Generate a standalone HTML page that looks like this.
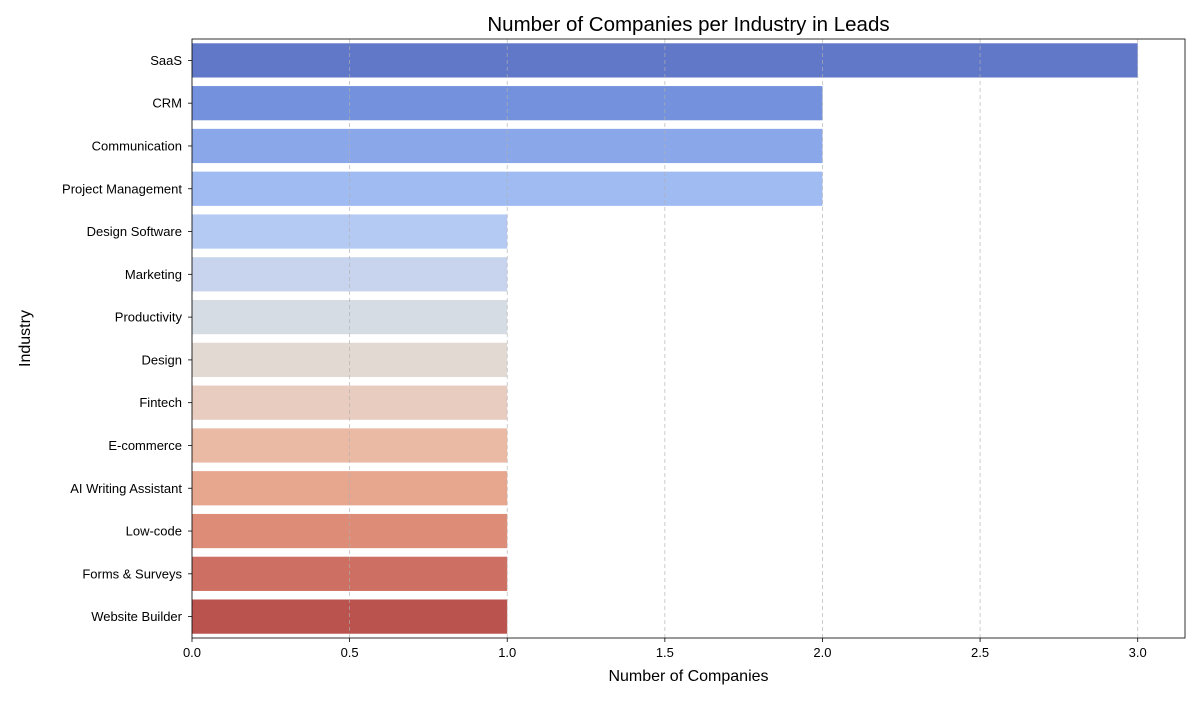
<!DOCTYPE html>
<html><head><meta charset="utf-8"><style>
body{margin:0;background:#fff;font-family:"Liberation Sans","DejaVu Sans",sans-serif}
</style></head><body>
<svg id="chart" width="1200" height="700" xmlns="http://www.w3.org/2000/svg"></svg>
<script>
const categories=["SaaS","CRM","Communication","Project Management","Design Software","Marketing","Productivity","Design","Fintech","E-commerce","AI Writing Assistant","Low-code","Forms & Surveys","Website Builder"];
const values=[3,2,2,2,1,1,1,1,1,1,1,1,1,1];
const xTicks=[0,0.5,1.0,1.5,2.0,2.5,3.0];
const xTickLabels=["0.0","0.5","1.0","1.5","2.0","2.5","3.0"];
const colors=["#6178C9","#7491DD","#8AA7EA","#A0BAF2","#B5CAF3","#C8D4EE","#D6DCE3","#E2D9D3","#E8CCC0","#EBBAA4","#E7A78F","#DD8D77","#CD6F62","#BA524E"];
const ns="http://www.w3.org/2000/svg";
const svg=document.getElementById('chart');
const L=192,R=1185,T=39,B=638,xmax=3.15;
const xs=v=>L+v/xmax*(R-L);
const band=(B-T)/categories.length;
const yc=i=>T+band*(i+0.5);
function mk(tag,attrs,parent){const e=document.createElementNS(ns,tag);for(const k in attrs)e.setAttribute(k,attrs[k]);(parent||svg).appendChild(e);return e;}
// bars
categories.forEach((c,i)=>{
 const r=mk('rect',{x:xs(0),y:yc(i)-band*0.4,width:xs(values[i])-xs(0),height:band*0.8,fill:colors[i]});
 
 
 mk('line',{x1:L-4,x2:L,y1:yc(i),y2:yc(i),stroke:'#000','stroke-width':0.8});
 const t=mk('text',{x:L-10,y:yc(i)+4.5,'text-anchor':'end','font-size':13,fill:'#000'});
 t.textContent=c;
 
 
});
// grid (drawn above bars)
xTicks.forEach((t,i)=>{
 const g=mk('line',{x1:xs(t),x2:xs(t),y1:T,y2:B,stroke:'#b0b0b0','stroke-opacity':0.8,'stroke-dasharray':'4,3','stroke-width':0.8});
 
 
});
// x ticks
xTicks.forEach((t,i)=>{
 mk('line',{x1:xs(t),x2:xs(t),y1:B,y2:B+4,stroke:'#000','stroke-width':0.8});
 const tx=mk('text',{x:xs(t),y:B+19,'text-anchor':'middle','font-size':13});
 tx.textContent=xTickLabels[i];
 
 
});
const fr=mk('rect',{x:L,y:T,width:R-L,height:B-T,fill:'none',stroke:'#000','stroke-width':0.8});


const title=mk('text',{x:(L+R)/2,y:31,'text-anchor':'middle','font-size':20.5});
title.textContent='Number of Companies per Industry in Leads';


const xl=mk('text',{x:(L+R)/2,y:681,'text-anchor':'middle','font-size':16});
xl.textContent='Number of Companies';


const yl=mk('text',{x:30,y:(T+B)/2,'text-anchor':'middle','font-size':16,transform:`rotate(-90 30 ${(T+B)/2})`});
yl.textContent='Industry';


</script>
</body></html>
